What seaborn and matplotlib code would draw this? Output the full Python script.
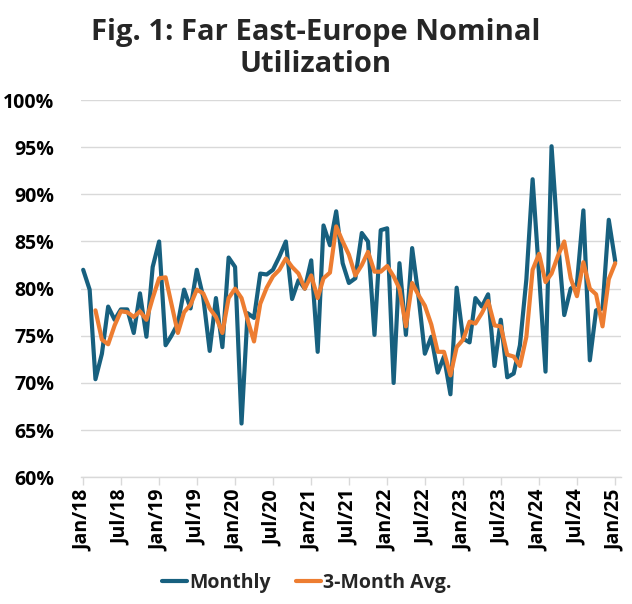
import numpy as np
import pandas as pd
import matplotlib
matplotlib.use("Agg")
import matplotlib.pyplot as plt
import matplotlib.dates as mdates
from matplotlib.ticker import FuncFormatter
import seaborn as sns

# dados (utilização nominal, %)
start_month = "2018-01-01"

monthly = [
    82.0, 79.9, 70.4, 73.1, 78.1, 76.7, 77.8, 77.8, 75.3, 79.5, 74.9, 82.3,
    85.0, 74.0, 75.0, 76.3, 79.9, 77.9, 82.0, 79.1, 73.4, 79.0, 73.8, 83.3,
    82.3, 65.7, 77.4, 76.9, 81.6, 81.5, 82.0, 83.4, 85.0, 78.9, 80.9, 80.0,
    83.0, 73.3, 86.7, 84.6, 88.2, 82.7, 80.6, 81.1, 85.9, 85.0, 75.1, 86.2,
    86.4, 70.0, 82.7, 75.1, 84.3, 79.1, 73.1, 74.9, 71.1, 72.8, 68.8, 80.1,
    74.7, 74.3, 79.0, 78.1, 79.4, 71.8, 76.7, 70.6, 71.0, 74.0, 81.0, 91.6,
    81.5, 71.2, 95.1, 85.0, 77.2, 80.0, 80.5, 88.3, 72.4, 77.7, 77.9, 87.3,
    82.9,
]

avg_3m = [
    None, None, 77.7, 74.6, 74.1, 76.1, 77.6, 77.5, 77.0, 77.6, 76.7, 79.0,
    81.1, 81.2, 78.4, 75.3, 77.5, 78.3, 79.9, 79.5, 77.9, 77.0, 75.3, 79.0,
    80.0, 79.0, 76.7, 74.4, 78.4, 80.1, 81.3, 82.0, 83.2, 82.3, 81.6, 80.0,
    81.4, 79.0, 81.1, 81.7, 86.6, 85.0, 83.6, 81.4, 82.5, 83.9, 81.8, 81.8,
    82.4, 81.3, 80.0, 76.0, 80.6, 79.3, 78.2, 76.2, 73.3, 73.3, 70.8, 73.8,
    74.6, 76.5, 76.3, 77.4, 78.7, 76.1, 76.0, 73.0, 72.8, 71.8, 74.9, 82.0,
    83.7, 80.7, 81.6, 83.5, 85.0, 81.1, 79.2, 82.8, 80.0, 79.4, 76.0, 81.0,
    82.7,
]

series_names = ["Monthly", "3-Month Avg."]
colors = ["#17607f", "#ed7d31"]
y_ticks = [60, 65, 70, 75, 80, 85, 90, 95, 100]

months = pd.date_range(start_month, periods=len(monthly), freq="MS")

df = pd.DataFrame({
    "mes": list(months) * 2,
    "valor": monthly + [np.nan if v is None else v for v in avg_3m],
    "serie": [series_names[0]] * len(monthly) + [series_names[1]] * len(avg_3m),
})

sns.set_theme(style="white")
plt.rcParams["font.family"] = ["Open Sans", "DejaVu Sans"]
plt.rcParams["font.weight"] = "bold"

fig = plt.figure(figsize=(6.32, 6.04), dpi=100)
ax = fig.add_axes([0.128, 0.2098, 0.855, 0.6246])

sns.lineplot(data=df, x="mes", y="valor", hue="serie", palette=colors,
             linewidth=3.0, ax=ax, legend=True)

ax.set_ylim(60, 100)
ax.set_yticks(y_ticks)
ax.yaxis.set_major_formatter(FuncFormatter(lambda v, p: f"{v:.0f}%"))
ax.set_xlim(pd.Timestamp("2017-12-21"), pd.Timestamp("2025-01-30"))
ax.xaxis.set_major_locator(mdates.MonthLocator(bymonth=[1, 7]))
ax.xaxis.set_major_formatter(mdates.DateFormatter("%b/%y"))

ax.grid(axis="y", color="#d9d9d9", linewidth=1.0)
ax.set_axisbelow(True)
for s in ["top", "right", "left"]:
    ax.spines[s].set_visible(False)
ax.spines["bottom"].set_color("#d9d9d9")
ax.spines["bottom"].set_linewidth(1.0)

ax.tick_params(axis="x", which="major", bottom=True, length=6, width=1,
               color="#d9d9d9", labelsize=14, rotation=90, pad=3)
ax.tick_params(axis="y", left=False, labelsize=14, pad=13)
for lab in ax.get_xticklabels() + ax.get_yticklabels():
    lab.set_fontweight("bold")
    lab.set_color("black")

ax.set_xlabel("")
ax.set_ylabel("")

fig.suptitle("Fig. 1: Far East-Europe Nominal\nUtilization", fontsize=21,
             fontweight="bold", x=0.5, y=0.97, linespacing=1.12)

leg = ax.legend(loc="center", bbox_to_anchor=(0.418, -0.279), ncol=2,
                frameon=False, handlelength=1.3, columnspacing=1.3,
                handletextpad=0.1, prop={"size": 14, "weight": "bold"})
for line in leg.get_lines():
    line.set_linewidth(3)

fig.savefig("out.png", dpi=100)
